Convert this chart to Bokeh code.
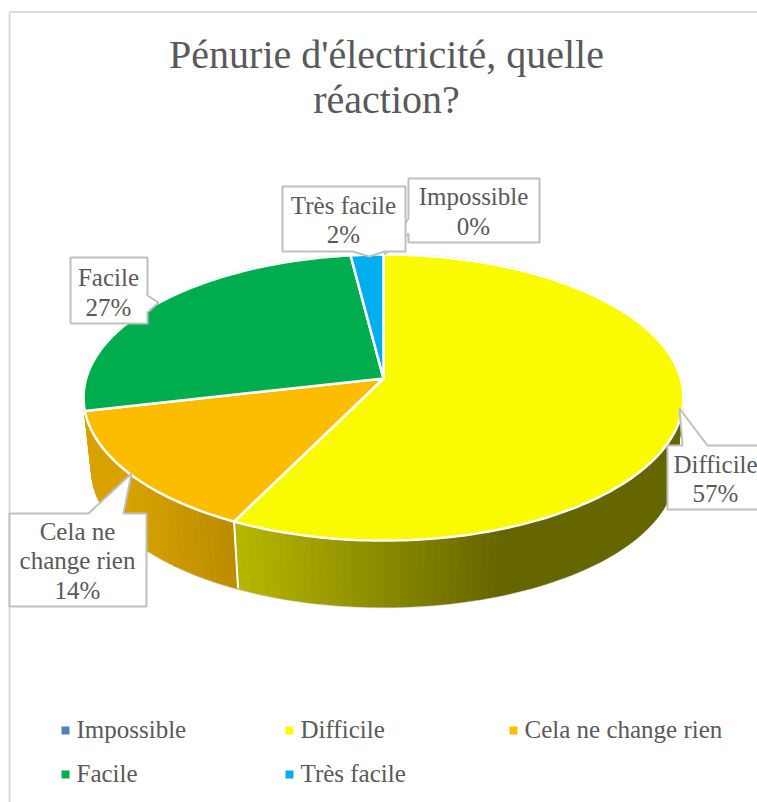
import numpy as np
from bokeh.plotting import figure
from bokeh.models import Range1d
from bokeh.core.properties import value
from bokeh.embed import file_html
from bokeh.resources import INLINE

TITLE_LINES = ["Pénurie d'électricité, quelle", "réaction?"]
CATEGORIES = ["Impossible", "Difficile", "Cela ne change rien", "Facile", "Très facile"]
VALUES = [0, 57.3, 14.1, 26.6, 2.0]
COLORS = ["#4F81BD", "#FAFA00", "#FCBD00", "#00AD4E", "#00AEEF"]
FONT = "Liberation Serif"
TXT = "#595959"
GRID = "#BFBFBF"

p = figure(width=757, height=802, output_backend="svg", toolbar_location=None,
           x_range=Range1d(0, 757), y_range=Range1d(802, 0),
           min_border=0, x_axis_type=None, y_axis_type=None, outline_line_color=None)
p.grid.visible = False
p.background_fill_color = "white"

# frame
p.line([9, 9], [802, 11.5], line_color="#DCDCDC", line_width=2)
p.line([9, 757], [11.5, 11.5], line_color="#DCDCDC", line_width=2)

# pie projection
CX, CY, K, A, R = 383.0, 378.0, 0.133, 140.5, 297.3

def top_pt(frac):
    t = 2 * np.pi * np.asarray(frac)
    u, v = np.sin(t), np.cos(t)
    s = 1 / (1 + K * v)
    return CX + R * u * s, CY - A * v * s

def low_pt(frac):
    t = 2 * np.pi * np.asarray(frac)
    u, v = np.sin(t), np.cos(t)
    s = 1 / (1 + K * v)
    return CX + 0.973 * R * u * s, 451 - 0.958 * A * v * s

total = sum(VALUES)
edges = np.cumsum([0] + VALUES) / total

def shade(col, f):
    r, g, b = int(col[1:3], 16), int(col[3:5], 16), int(col[5:7], 16)
    return "#%02x%02x%02x" % (int(r * f), int(g * f), int(b * f))

SHADE = {
    1: ([240, 500], [0.73, 0.41]),
    2: ([125, 237], [0.86, 0.74]),
}
FRONT = (0.20, 0.76)

ff = np.linspace(0, 1, 361)
lx, ly = low_pt(ff[(ff > FRONT[0]) & (ff < FRONT[1])])

# side strips
sx, sy, sc = [], [], []
for i in (2, 1):
    a, b = max(edges[i], FRONT[0]), FRONT[1] if i == 2 else edges[i + 1]
    n = max(int((b - a) * 260), 2)
    f = np.linspace(b, a, n + 1)
    xt, yt = top_pt(f)
    xb, yb = low_pt(f)
    for j in range(n):
        sx.append([xt[j], xt[j + 1], xb[j + 1], xb[j]])
        sy.append([yt[j], yt[j + 1], yb[j + 1], yb[j]])
        xm = (xt[j] + xt[j + 1]) / 2
        sc.append(shade(COLORS[i], float(np.interp(xm, *SHADE[i]))))
p.line(lx, ly + 1, line_color="#D5D5D5", line_width=1)
p.patches(sx, sy, fill_color=sc, line_color=sc, line_width=1.5)

# seam between side faces
sxx, syy = top_pt(edges[2]), low_pt(edges[2])
p.line([float(sxx[0]), float(syy[0])], [float(sxx[1]), float(syy[1])], line_color="white", line_width=2)

# outer ghost line of top rim
tx, ty = top_pt(ff)
p.line(tx, ty - 0.8, line_color="#D5D5D5", line_width=1)

# top faces
for i, (v, c) in enumerate(zip(VALUES, COLORS)):
    if v == 0:
        continue
    f = np.linspace(edges[i], edges[i + 1], max(int(v * 4), 4))
    x, y = top_pt(f)
    p.patch(np.r_[CX, x], np.r_[CY, y], fill_color=c, line_color="white", line_width=2.5)

# callouts (drawn bottom-up)
callouts = [
    ([408, 539, 539, 408, 408, 384, 408], [178, 178, 242, 242, 233, 254, 218]),
    ([282, 405, 405, 384, 369, 352, 282], [186, 186, 251, 251, 256, 251, 251]),
    ([70, 147, 147, 158, 147, 147, 70], [257, 257, 295, 302, 312, 323, 323]),
    ([9, 88, 131, 123, 146, 146, 9], [513, 513, 473, 513, 513, 606, 606]),
    ([667, 682, 679, 707, 760, 760, 667], [445, 445, 408, 445, 445, 509, 509]),
]
for x, y in callouts:
    p.patch(x, y, fill_color="white", line_color=GRID, line_width=2)

def pct(i):
    return f"{round(VALUES[i])}%"

LBL = 25
label_txt = [
    (473, 196, "Impossible"), (473, 226, pct(0)),
    (343, 205, "Très facile"), (343, 234, pct(4)),
    (108, 277, "Facile"), (108, 307, pct(3)),
    (77, 531, "Cela ne"), (77, 560, "change rien"), (77, 590, pct(2)),
    (715, 464, "Difficile"), (715, 493, pct(1)),
]
p.text([t[0] for t in label_txt], [t[1] for t in label_txt], text=[t[2] for t in label_txt],
       text_font=value(FONT), text_font_size=f"{LBL}px", text_color=TXT,
       text_align="center", text_baseline="middle")

# title
p.text([386, 386], [54, 99], text=TITLE_LINES, text_font=value(FONT), text_font_size="40px",
       text_color=TXT, text_align="center", text_baseline="middle")

# legend
lgx = [65, 289, 513, 65, 289]
lgy = [730, 730, 730, 774, 774]
p.scatter(lgx, lgy, marker="square", size=8, fill_color=COLORS, line_color=None)
p.text([x + 11 for x in lgx], [y - 1 for y in lgy], text=CATEGORIES, text_font=value(FONT),
       text_font_size=f"{LBL}px", text_color=TXT, text_align="left", text_baseline="middle")

open("out.html", "w").write(file_html(p, INLINE))
